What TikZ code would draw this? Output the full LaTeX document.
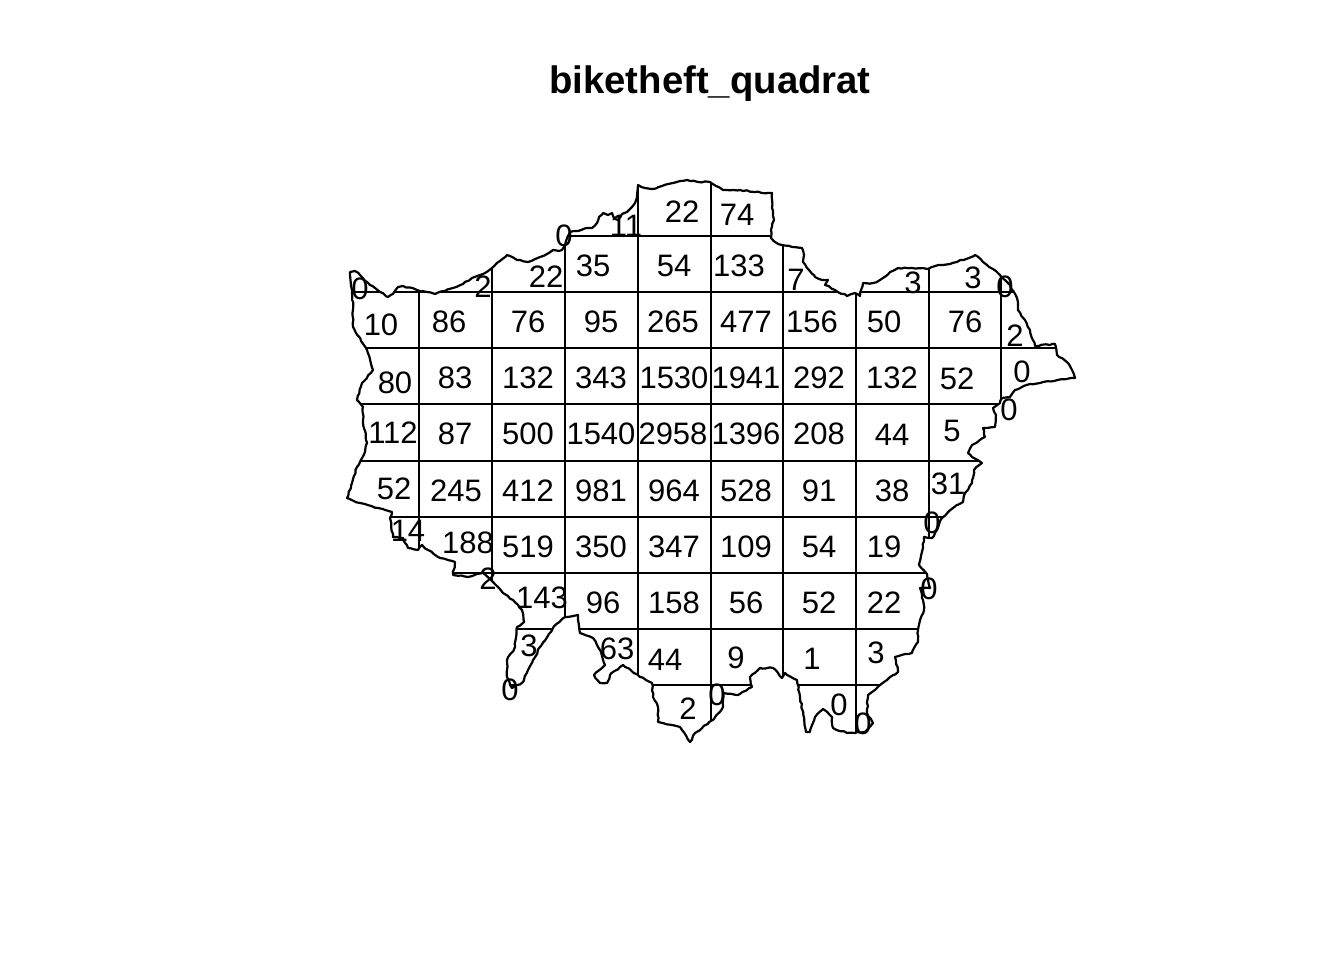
\documentclass[tikz,border=0pt]{standalone}
\usepackage{fontspec}
\setmainfont{Liberation Sans}
\usetikzlibrary{decorations.pathmorphing}
\tikzset{
  cnt/.style={inner sep=0pt,font=\fontsize{31}{31}\selectfont},
  ttl/.style={inner sep=0pt,font=\fontsize{38.3}{38.3}\selectfont\bfseries},
  gridln/.style={line width=2pt,line cap=butt},
  border/.style={line width=2.2pt,line join=round,decorate,decoration={random steps,segment length=3.5pt,amplitude=0.7pt}}
}
\def\lndnpath{(350,275) -- (350,272) -- (355,271) -- (360,275) -- (370,285) -- (380,292) -- (388,297) -- (393,294) -- (398,287) -- (403,286) -- (417,290) -- (427,292) -- (435,294) -- (445,291) -- (453,288) -- (463,284) -- (472,278) -- (480,275) -- (485,273) -- (492,268) -- (500,261) -- (507,255) -- (517,260) -- (528,262) -- (540,257) -- (547,254) -- (553,250) -- (559,251) -- (562,250) -- (566,241) -- (570,232) -- (578,231) -- (587,228) -- (592,228) -- (597,223) -- (599,217) -- (603,213) -- (608,215) -- (612,213) -- (615,219) -- (618,220) -- (622,214) -- (627,212) -- (632,207) -- (635,203) -- (637,197) -- (638,185) -- (645,188) -- (652,189) -- (662,186) -- (673,183) -- (680,181) -- (687,180) -- (698,182) -- (710,182) -- (716,186) -- (723,190) -- (740,190) -- (755,192) -- (772,193) -- (772,208) -- (774,220) -- (771,230) -- (771,238) -- (775,242) -- (782,245) -- (792,247) -- (802,248) -- (804,255) -- (803,262) -- (809,270) -- (815,277) -- (822,280) -- (828,280) -- (825,285) -- (835,290) -- (847,296) -- (855,293) -- (860,296) -- (863,283) -- (873,283) -- (880,280) -- (883,278) -- (890,272) -- (898,268) -- (912,268) -- (928,269) -- (935,266) -- (943,265) -- (957,262) -- (975,255) -- (987,265) -- (1000,275) -- (1010,285) -- (1017,298) -- (1018,310) -- (1025,320) -- (1030,330) -- (1035,346) -- (1055,344) -- (1057,355) -- (1062,358) -- (1068,363) -- (1072,370) -- (1075,378) -- (1043,382) -- (1030,384) -- (1015,390) -- (1010,397) -- (1002,398) -- (1000,403) -- (993,408) -- (996,415) -- (995,427) -- (983,428) -- (985,437) -- (972,445) -- (968,453) -- (972,457) -- (982,463) -- (974,470) -- (972,483) -- (965,493) -- (963,502) -- (953,508) -- (942,518) -- (937,530) -- (932,538) -- (924,537) -- (923,548) -- (921,556) -- (919,565) -- (927,574) -- (930,588) -- (920,588) -- (923,600) -- (924,610) -- (920,620) -- (918,630) -- (918,642) -- (912,653) -- (895,657) -- (898,672) -- (887,680) -- (880,685) -- (868,695) -- (867,713) -- (873,723) -- (865,732) -- (847,733) -- (833,728) -- (832,717) -- (823,709) -- (815,717) -- (810,732) -- (806,732) -- (800,697) -- (797,680) -- (785,673) -- (782,678) -- (773,668) -- (760,668) -- (750,677) -- (752,687) -- (738,695) -- (723,693) -- (723,707) -- (713,720) -- (695,733) -- (690,742) -- (680,727) -- (658,722) -- (658,707) -- (653,697) -- (652,683) -- (640,677) -- (623,665) -- (610,675) -- (607,683) -- (600,683) -- (594,675) -- (605,665) -- (600,650) -- (593,638) -- (580,633) -- (578,615) -- (565,617) -- (553,628) -- (540,647) -- (528,670) -- (523,682) -- (512,688) -- (507,677) -- (507,660) -- (515,647) -- (517,627) -- (524,622) -- (522,610) -- (513,600) -- (503,593) -- (493,582) -- (483,573) -- (468,577) -- (453,575) -- (455,562) -- (440,558) -- (428,550) -- (422,545) -- (418,550) -- (408,548) -- (403,538) -- (393,537) -- (390,518) -- (392,512) -- (378,508) -- (360,503) -- (347,498) -- (352,483) -- (357,467) -- (365,452) -- (367,443) -- (363,423) -- (363,407) -- (357,400) -- (362,383) -- (373,370) -- (367,350) -- (353,327) -- (353,310) -- (352,290) -- cycle}
\begin{document}
\begin{tikzpicture}[x=1pt,y=-1pt]
\useasboundingbox (0,0) rectangle (1344,960);
\node[ttl] (title) at (710,84) {biketheft\_quadrat};
\begin{scope}
\clip \lndnpath;
\foreach \x in {419,492,565,638,711,783,856,929,1001} {
        \draw[gridln] (\x,170) -- (\x,750);
}
\foreach \y in {236,292,348,404,461,517,573,629,685} {
        \draw[gridln] (340,\y) -- (1080,\y);
}
\end{scope}
\draw[border] \lndnpath;
% counts, top row first
\foreach \px/\py/\val [count=\i] in {
  682/211.5/22,737/214.5/74,626/225.5/11,564/235.5/0,
  593/265.5/35,674/265.5/54,739/265.5/133,
  546/276.5/22,483/286.5/2,360/288.5/0,796/279.5/7,913/282.5/3,973/277.5/3,1005/286.5/0,
  381/324.5/10,449/321.5/86,528/321.5/76,601/321.5/95,673/321.5/265,746/321.5/477,812/321.5/156,884/321.5/50,965/321.5/76,1015/335.5/2,
  395/382.5/80,455/377.5/83,528/377.5/132,601/377.5/343,674/377.5/1530,746/377.5/1941,819/377.5/292,892/377.5/132,957/378.5/52,1022/371.5/0,
  393/432.5/112,455/433.5/87,528/433.5/500,601/433.5/1540,673/433.5/2958,746/433.5/1396,819/433.5/208,892/434.5/44,952/430.5/5,1009/409.5/0,
  394/488.5/52,456/490.5/245,528/490.5/412,601/490.5/981,674/490.5/964,746/490.5/528,819/490.5/91,892/490.5/38,948/483.5/31,
  408/530.5/14,468/542.5/188,528/546.5/519,601/546.5/350,674/546.5/347,746/546.5/109,819/546.5/54,884/546.5/19,932/522.5/0,
  488/578.5/2,542/597.5/143,603/602.5/96,674/602.5/158,746/602.5/56,819/602.5/52,884/602.5/22,929/588.5/0,
  529/645.5/3,617/648.5/63,665/659.5/44,736/657.5/9,812/658.5/1,876/652.5/3,
  510/689.5/0,688/708.5/2,717/694.5/0,839/704.5/0,863/723.5/0} {
        \node[cnt] (c\i) at (\px,\py) {\val};
}
\end{tikzpicture}
\end{document}
